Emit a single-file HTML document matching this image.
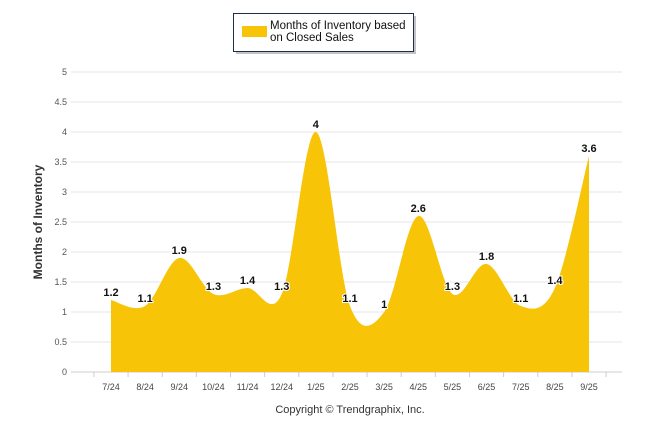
<!DOCTYPE html>
<html><head><meta charset="utf-8"><style>
body{margin:0;background:#fff;font-family:"Liberation Sans",sans-serif}
svg text{font-family:"Liberation Sans",sans-serif}
</style></head><body>
<svg width="646" height="434">
<g id="grid"></g>
<g id="area"></g>
<g id="labels"></g>
<g>
<rect x="236" y="16" width="180" height="38" fill="#888" opacity="0.5"/>
<rect x="233.5" y="13.5" width="180" height="38" fill="#fff" stroke="#1f2d4d" stroke-width="1"/>
<rect x="242" y="26" width="25" height="11" fill="#f7c408"/>
<text x="270" y="29" font-size="11.5" fill="#111">Months of Inventory based</text>
<text x="270" y="41" font-size="11.5" fill="#111">on Closed Sales</text>
</g>
<text transform="translate(42,222) rotate(-90)" text-anchor="middle" font-size="12" font-weight="bold" fill="#333">Months of Inventory</text>
<text x="350" y="413" text-anchor="middle" font-size="11" fill="#333">Copyright © Trendgraphix, Inc.</text>
</svg>
<script>
const categories=["7/24","8/24","9/24","10/24","11/24","12/24","1/25","2/25","3/25","4/25","5/25","6/25","7/25","8/25","9/25"];
const values=[1.2,1.1,1.9,1.3,1.4,1.3,4,1.1,1,2.6,1.3,1.8,1.1,1.4,3.6];
const yTicks=[0,0.5,1,1.5,2,2.5,3,3.5,4,4.5,5];
const NS="http://www.w3.org/2000/svg";
const x0=111,step=(589-111)/14,yBase=372,yPer=60;
const xs=i=>x0+i*step, ys=v=>yBase-v*yPer;
function mk(t,a,p){const e=document.createElementNS(NS,t);for(const k in a)e.setAttribute(k,a[k]);p.appendChild(e);return e;}
const grid=document.getElementById('grid');
yTicks.forEach(v=>{
 const l=mk('line',{x1:71,x2:622,y1:ys(v),y2:ys(v),stroke:v===0?'#ccc':'#e6e6e6'},grid);
 
 
 const t=mk('text',{x:67,y:ys(v)+3,'text-anchor':'end','font-size':9,fill:'#555'},grid);t.textContent=v;
 
 
});
for(let i=0;i<=categories.length;i++){const x=xs(i)-step/2;mk('line',{x1:x,x2:x,y1:372,y2:377,stroke:'#ccc'},grid);}
categories.forEach((c,i)=>{const t=mk('text',{x:xs(i),y:390,'text-anchor':'middle','font-size':9,fill:'#444'},grid);t.textContent=c;
 
 });
const pts=values.map((v,i)=>[xs(i),ys(v)]);
let d=`M${pts[0][0]},${yBase}L${pts[0][0]},${pts[0][1]}`;
for(let i=0;i<pts.length-1;i++){
 const p0=pts[i-1]||pts[i],p1=pts[i],p2=pts[i+1],p3=pts[i+2]||p2,k=1/6;
 d+=`C${p1[0]+(p2[0]-p0[0])*k},${p1[1]+(p2[1]-p0[1])*k} ${p2[0]-(p3[0]-p1[0])*k},${p2[1]-(p3[1]-p1[1])*k} ${p2[0]},${p2[1]}`;
}
d+=`L${pts[pts.length-1][0]},${yBase}Z`;
const a=mk('path',{d:d,fill:'#f7c408'},document.getElementById('area'));


const lg=document.getElementById('labels');
values.forEach((v,i)=>{const t=mk('text',{x:xs(i),y:ys(v)-4,'text-anchor':'middle','font-size':11,'font-weight':'bold',fill:'#111',stroke:'#fff','stroke-width':2,'paint-order':'stroke'},lg);t.textContent=v;
 
 });
</script>
</body></html>
